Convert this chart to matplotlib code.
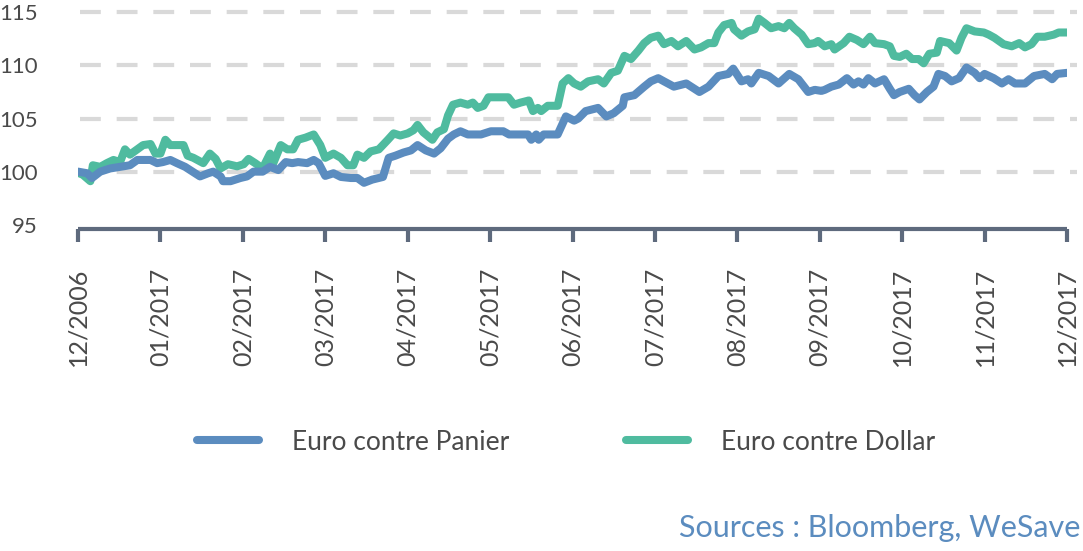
import matplotlib
matplotlib.use("Agg")
import matplotlib.pyplot as plt
from matplotlib.lines import Line2D

plt.rcParams['font.family'] = ['Lato', 'DejaVu Sans']

# x positions in months after the first tick (12/2016)
panier_x = [0.0, 0.11, 0.17, 0.27, 0.39, 0.51, 0.63, 0.72, 0.88, 0.96, 1.03, 1.12, 1.20, 1.30,
            1.39, 1.48, 1.58, 1.64, 1.73, 1.76, 1.85, 1.97, 2.05, 2.13, 2.24, 2.33, 2.43, 2.52,
            2.60, 2.67, 2.78, 2.86, 2.92, 3.00, 3.10, 3.19, 3.31, 3.39, 3.47, 3.57, 3.70, 3.77,
            3.85, 3.95, 4.04, 4.12, 4.22, 4.32, 4.40, 4.49, 4.56, 4.64, 4.73, 4.89, 5.01, 5.16,
            5.23, 5.46, 5.50, 5.56, 5.59, 5.65, 5.82, 5.92, 6.02, 6.07, 6.16, 6.31, 6.41, 6.50,
            6.61, 6.63, 6.75, 6.87, 6.95, 7.04, 7.11, 7.23, 7.38, 7.54, 7.65, 7.77, 7.89, 7.95,
            8.05, 8.13, 8.17, 8.26, 8.38, 8.50, 8.63, 8.74, 8.86, 8.94, 9.02, 9.06, 9.14, 9.23,
            9.33, 9.41, 9.47, 9.53, 9.59, 9.67, 9.78, 9.85, 9.90, 9.97, 10.08, 10.15, 10.21,
            10.30, 10.38, 10.44, 10.52, 10.60, 10.69, 10.78, 10.88, 10.94, 11.00, 11.11, 11.21,
            11.29, 11.37, 11.49, 11.60, 11.73, 11.82, 11.88, 12.0]
panier = [100.0, 99.85, 99.4, 100.0, 100.3, 100.45, 100.6, 101.1, 101.1, 100.8, 100.9, 101.1,
          100.8, 100.45, 100.0, 99.55, 99.85, 100.0, 99.55, 99.1, 99.1, 99.4, 99.55, 100.0,
          100.0, 100.45, 100.15, 100.9, 100.8, 100.9, 100.8, 101.1, 100.8, 99.6, 99.85, 99.5,
          99.4, 99.4, 98.95, 99.25, 99.5, 101.3, 101.5, 101.8, 102.0, 102.5, 102.0, 101.7,
          102.2, 103.1, 103.5, 103.8, 103.5, 103.5, 103.8, 103.8, 103.5, 103.5, 103.0, 103.5,
          103.0, 103.5, 103.5, 105.2, 104.8, 105.0, 105.7, 106.0, 105.2, 105.5, 106.2, 107.0,
          107.2, 108.0, 108.5, 108.8, 108.5, 108.0, 108.3, 107.5, 108.0, 109.0, 109.2, 109.7,
          108.5, 108.7, 108.3, 109.3, 109.0, 108.3, 109.2, 108.7, 107.5, 107.7, 107.6, 107.7,
          108.0, 108.2, 108.8, 108.2, 108.5, 108.2, 108.8, 108.3, 108.7, 107.8, 107.2, 107.5,
          107.8, 107.2, 106.8, 107.5, 108.0, 109.2, 109.0, 108.5, 108.8, 109.8, 109.3, 108.8,
          109.2, 108.8, 108.3, 108.7, 108.3, 108.3, 109.0, 109.2, 108.7, 109.2, 109.3]

dollar_x = [0.0, 0.06, 0.15, 0.18, 0.27, 0.35, 0.43, 0.51, 0.57, 0.63, 0.72, 0.79, 0.88, 0.94,
            1.00, 1.06, 1.12, 1.28, 1.33, 1.40, 1.52, 1.60, 1.67, 1.73, 1.82, 1.93, 2.01, 2.07,
            2.15, 2.24, 2.33, 2.37, 2.46, 2.54, 2.61, 2.67, 2.76, 2.86, 2.94, 3.00, 3.10, 3.19,
            3.27, 3.34, 3.39, 3.47, 3.55, 3.65, 3.76, 3.83, 3.91, 4.00, 4.07, 4.12, 4.19, 4.30,
            4.36, 4.44, 4.49, 4.55, 4.64, 4.73, 4.79, 4.85, 4.92, 4.98, 5.22, 5.29, 5.37, 5.47,
            5.52, 5.58, 5.62, 5.70, 5.82, 5.88, 5.95, 6.02, 6.10, 6.19, 6.31, 6.38, 6.47, 6.55,
            6.63, 6.71, 6.80, 6.87, 6.95, 7.04, 7.11, 7.20, 7.28, 7.38, 7.48, 7.56, 7.65, 7.72,
            7.77, 7.84, 7.93, 7.96, 8.05, 8.13, 8.21, 8.26, 8.33, 8.41, 8.50, 8.57, 8.63, 8.69,
            8.78, 8.86, 8.94, 8.98, 9.06, 9.14, 9.18, 9.29, 9.36, 9.45, 9.53, 9.61, 9.67, 9.78,
            9.85, 9.90, 9.97, 10.05, 10.12, 10.20, 10.26, 10.33, 10.42, 10.46, 10.57, 10.66,
            10.72, 10.78, 10.88, 10.99, 11.05, 11.12, 11.23, 11.33, 11.42, 11.49, 11.57, 11.64,
            11.73, 11.84, 11.90, 12.0]
dollar = [99.9, 99.7, 99.1, 100.6, 100.45, 100.8, 101.1, 100.9, 102.1, 101.6, 102.1, 102.5,
          102.6, 101.7, 101.7, 103.0, 102.5, 102.5, 101.5, 101.3, 100.8, 101.7, 101.2, 100.3,
          100.7, 100.5, 100.7, 101.2, 100.8, 100.3, 101.7, 100.8, 102.5, 102.1, 102.1, 103.0,
          103.2, 103.5, 102.5, 101.3, 101.7, 101.3, 100.6, 100.6, 101.6, 101.3, 101.9, 102.1,
          103.0, 103.6, 103.4, 103.6, 103.9, 104.4, 103.7, 103.0, 103.7, 104.0, 105.3, 106.3,
          106.5, 106.3, 106.5, 106.0, 106.2, 107.0, 107.0, 106.3, 106.5, 106.7, 105.7, 106.0,
          105.7, 106.2, 106.2, 108.3, 108.8, 108.3, 108.0, 108.5, 108.7, 108.3, 109.3, 109.5,
          110.9, 110.6, 111.4, 112.1, 112.6, 112.8, 112.0, 112.3, 111.8, 112.3, 111.5, 111.7,
          112.1, 112.1, 113.1, 113.8, 114.0, 113.4, 112.8, 113.2, 113.4, 114.4, 114.0, 113.5,
          113.7, 113.5, 114.0, 113.5, 112.9, 112.0, 112.1, 112.3, 111.8, 112.0, 111.5, 112.1,
          112.7, 112.4, 112.0, 112.7, 112.1, 112.0, 111.8, 110.9, 110.8, 111.1, 110.6, 110.6,
          110.2, 111.1, 111.2, 112.3, 112.1, 111.4, 112.6, 113.5, 113.2, 113.1, 112.9, 112.6,
          112.0, 111.8, 112.1, 111.7, 112.0, 112.7, 112.7, 112.9, 113.1, 113.1]

month_labels = ['12/2006', '01/2017', '02/2017', '03/2017', '04/2017', '05/2017', '06/2017',
                '07/2017', '08/2017', '09/2017', '10/2017', '11/2017', '12/2017']
y_ticks = [95, 100, 105, 110, 115]
grid_levels = [100, 105, 110, 115]
series_names = ['Euro contre Panier', 'Euro contre Dollar']

blue = '#5b8cbf'
green = '#4fbb9f'
axis_col = '#5e6a7d'
text_col = '#4a4a4a'

fig = plt.figure(figsize=(10.83, 5.51), dpi=100)
ax = fig.add_axes([78 / 1083, 1 - 229 / 551, (1067 - 78) / 1083, 222 / 551])

# dashed guide lines at the main levels, running a little past the last tick
ax.hlines(grid_levels, 0.02, 12.12, colors='#d9d9d9', linewidth=3, linestyles=(0, (5.0, 3.8)),
          zorder=1, clip_on=False)

ax.plot(panier_x, panier, color=blue, lw=5.8, solid_capstyle='round',
        solid_joinstyle='round', zorder=3)
ax.plot(dollar_x, dollar, color=green, lw=5.8, solid_capstyle='round',
        solid_joinstyle='round', zorder=2)

ax.set_xlim(0, 12)
ax.set_ylim(94.6, 115.5)
ax.set_xticks(range(len(month_labels)))
ax.set_xticklabels(month_labels, rotation=90, fontsize=18, color=text_col)
ax.set_yticks(y_ticks)
ax.set_yticklabels([str(v) for v in y_ticks], fontsize=16, color=text_col)

for side in ['top', 'right', 'left']:
    ax.spines[side].set_visible(False)
ax.spines['bottom'].set_color(axis_col)
ax.spines['bottom'].set_linewidth(3)
ax.spines['bottom'].set_capstyle('butt')
ax.tick_params(axis='x', length=9, width=3, color=axis_col, pad=19)
ax.tick_params(axis='y', length=0, pad=29)

handles = [Line2D([], [], color=blue, lw=5.8, solid_capstyle='round'),
           Line2D([], [], color=green, lw=5.8, solid_capstyle='round')]
fig.legend(handles, series_names, loc='center', bbox_to_anchor=(0.5226, 1 - 442 / 551),
           ncol=2, frameon=False, fontsize=19, handlelength=2.35, handletextpad=1.25,
           columnspacing=4.45, labelcolor=text_col)

fig.text(1080 / 1083, 1 - 528 / 551, 'Sources : Bloomberg, WeSave', ha='right', va='center',
         fontsize=22, color=blue)

fig.savefig('out.png', dpi=100)
